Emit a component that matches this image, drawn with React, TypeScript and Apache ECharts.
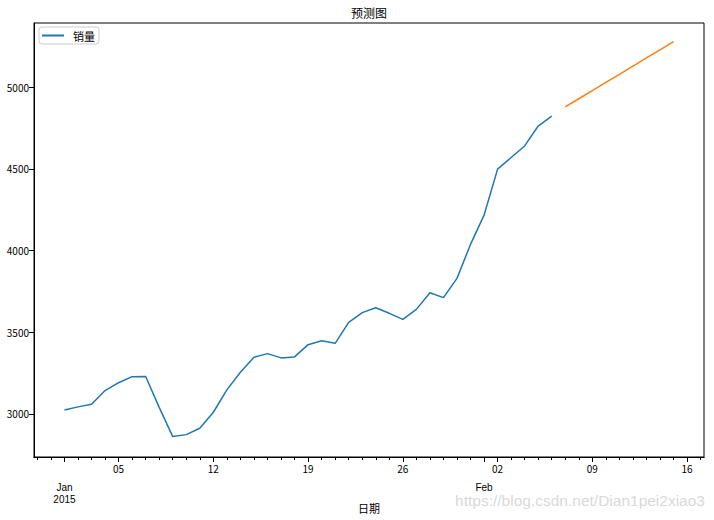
import React, { useEffect, useRef } from "react";
import * as echarts from "echarts";

const dates = [
  "2015-01-01", "2015-01-02", "2015-01-03", "2015-01-04", "2015-01-05", "2015-01-06", "2015-01-07",
  "2015-01-08", "2015-01-09", "2015-01-10", "2015-01-11", "2015-01-12", "2015-01-13", "2015-01-14",
  "2015-01-15", "2015-01-16", "2015-01-17", "2015-01-18", "2015-01-19", "2015-01-20", "2015-01-21",
  "2015-01-22", "2015-01-23", "2015-01-24", "2015-01-25", "2015-01-26", "2015-01-27", "2015-01-28",
  "2015-01-29", "2015-01-30", "2015-01-31", "2015-02-01", "2015-02-02", "2015-02-03", "2015-02-04",
  "2015-02-05", "2015-02-06",
];
const sales = [
  3024, 3043, 3059, 3143, 3191, 3228, 3229,
  3040, 2861, 2873, 2912, 3010, 3147, 3255,
  3347, 3369, 3343, 3349, 3424, 3448, 3432,
  3561, 3620, 3650, 3616, 3579, 3640, 3742,
  3712, 3830, 4038, 4217, 4499, 4570, 4641,
  4763, 4824,
];
const forecastDates = [
  "2015-02-07", "2015-02-08", "2015-02-09", "2015-02-10", "2015-02-11",
  "2015-02-12", "2015-02-13", "2015-02-14", "2015-02-15",
];
const forecast = [4880, 4930, 4980, 5030, 5080, 5130, 5180, 5230, 5280];

const majorTickDates = ["2015-01-05", "2015-01-12", "2015-01-19", "2015-01-26", "2015-02-02", "2015-02-09", "2015-02-16"];
const majorTickLabels = ["05", "12", "19", "26", "02", "09", "16"];
const monthTickDates = ["2015-01-01", "2015-02-01"];
const monthTickLabels = ["Jan", "Feb"];
const yearTickDates = ["2015-01-01"];
const yearTickLabels = ["2015"];
const yTicks = [3000, 3500, 4000, 4500, 5000];

const dayOf = (s: string) => {
  const [y, m, d] = s.split("-").map(Number);
  return (Date.UTC(y, m - 1, d) - Date.UTC(2015, 0, 1)) / 86400000;
};

const X_MIN = -2.25;
const X_MAX = 47.25;
const Y_MIN = 2736;
const Y_MAX = 5394;

export default function App() {
  const ref = useRef<HTMLDivElement>(null);
  useEffect(() => {
    if (!ref.current) return;
    const chart = echarts.init(ref.current, null, { renderer: "svg" });
    const majorVals = majorTickDates.map(dayOf);
    const monthVals = monthTickDates.map(dayOf);
    const yearVals = yearTickDates.map(dayOf);
    const minorVals: number[] = [];
    for (let d = Math.ceil(X_MIN); d <= Math.floor(X_MAX); d++) {
      if (!majorVals.includes(d) && !monthVals.includes(d)) minorVals.push(d);
    }
    const font = "'Noto Sans CJK SC', sans-serif";
    const latin = "'Liberation Sans', Arial, sans-serif";
    const common = {
      type: "value",
      min: X_MIN,
      max: X_MAX,
      position: "bottom",
      gridIndex: 0,
      splitLine: { show: false },
      axisLine: { show: true, onZero: false, lineStyle: { color: "#000", width: 1 } },
    };
    const labelFrom = (vals: number[], labels: string[]) => (v: number) => {
      const i = vals.indexOf(Math.round(v));
      return i >= 0 ? labels[i] : "";
    };
    chart.setOption({
      animation: false,
      textStyle: { fontFamily: font },
      grid: { left: 34, right: 10, top: 23, bottom: 63, show: true, borderColor: "#000", borderWidth: 1, containLabel: false },
      legend: {
        left: 39,
        top: 27,
        data: [{ name: "销量", icon: "rect" }],
        itemWidth: 22,
        itemHeight: 2,
        padding: [3, 4, 3, 3],
        borderColor: "#ccc",
        borderWidth: 1,
        borderRadius: 3,
        textStyle: { fontSize: 11, color: "#000", fontFamily: font, padding: [0, 0, 0, 4] },
      },
      xAxis: [
        {
          ...common,
          axisTick: { show: true, inside: false, length: 5, customValues: [...majorVals, ...monthVals], lineStyle: { color: "#000" } },
          axisLabel: {
            show: true, margin: 6, fontSize: 10, color: "#000",
            customValues: majorVals, formatter: labelFrom(majorVals, majorTickLabels),
          },
        },
        {
          ...common,
          axisTick: { show: true, inside: false, length: 3, customValues: minorVals, lineStyle: { color: "#000" } },
          axisLabel: {
            show: true, margin: 25, fontSize: 10, lineHeight: 10, color: "#000", fontFamily: latin,
            customValues: monthVals, formatter: labelFrom(monthVals, monthTickLabels),
          },
        },
        {
          ...common,
          axisLine: { show: false, onZero: false },
          axisTick: { show: false },
          axisLabel: {
            show: true, margin: 37, fontSize: 10, lineHeight: 10, color: "#000", fontFamily: latin,
            customValues: yearVals, formatter: labelFrom(yearVals, yearTickLabels),
          },
        },
      ],
      yAxis: {
        type: "value",
        min: Y_MIN,
        max: Y_MAX,
        splitLine: { show: false },
        axisLine: { show: true, onZero: false, lineStyle: { color: "#000" } },
        axisTick: { show: true, length: 5, customValues: yTicks, lineStyle: { color: "#000" } },
        axisLabel: { margin: 5, fontSize: 10, color: "#000", customValues: yTicks, formatter: (v: number) => String(v) },
      },
      graphic: [
        { type: "text", x: 369, y: 12, style: { text: "预测图", fontSize: 12, fill: "#000", fontFamily: font, textAlign: "center", textVerticalAlign: "middle" } },
        { type: "text", x: 369, y: 508, style: { text: "日期", fontSize: 11, fill: "#000", fontFamily: font, textAlign: "center", textVerticalAlign: "middle" } },
        { type: "text", x: 705, y: 500, style: { text: "https://blog.csdn.net/Dian1pei2xiao3", fontSize: 15.5, fill: "#d9d9d9", fontFamily: latin, textAlign: "right", textVerticalAlign: "middle" } },
      ],
      series: [
        {
          name: "销量",
          type: "line",
          xAxisIndex: 0,
          symbol: "none",
          data: dates.map((d, i) => [dayOf(d), sales[i]]),
          lineStyle: { color: "#1f77b4", width: 1.5 },
          itemStyle: { color: "#1f77b4" },
        },
        {
          name: "预测",
          type: "line",
          xAxisIndex: 0,
          symbol: "none",
          data: forecastDates.map((d, i) => [dayOf(d), forecast[i]]),
          lineStyle: { color: "#ff7f0e", width: 1.5 },
          itemStyle: { color: "#ff7f0e" },
        },
      ],
    });
    return () => chart.dispose();
  }, []);
  return <div ref={ref} style={{ width: 714, height: 520, position: "absolute", left: 0, top: 0, background: "#fff" }} />;
}
